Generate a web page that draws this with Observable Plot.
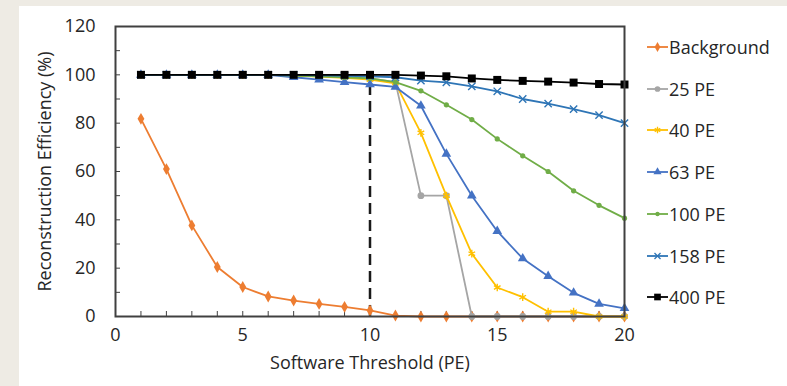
<!DOCTYPE html>
<html><head><meta charset="utf-8">
<script src="https://cdn.jsdelivr.net/npm/d3@7"></script>
<script src="https://cdn.jsdelivr.net/npm/@observablehq/plot@0.6"></script>
<style>
html,body{margin:0;padding:0;background:#EEEBE4;}
#wrap{position:relative;width:787px;height:386px;overflow:hidden;background:#EEEBE4;}
#panel{position:absolute;left:19px;top:6px;right:0;bottom:0;background:#fff;}
#chart{position:absolute;left:0;top:0;}
#legend{position:absolute;left:647px;top:0;font-family:"Open Sans",sans-serif;font-size:18px;color:#262626;}
.item{position:absolute;left:0;display:flex;align-items:center;height:24px;white-space:nowrap;}
.item svg{margin-right:1px;}
</style></head>
<body><div id="wrap"><div id="panel"></div><div id="chart"></div><div id="legend"></div></div>
<script>
// ---- data ----
const thresholds = [1,2,3,4,5,6,7,8,9,10,11,12,13,14,15,16,17,18,19,20];
const background = [81.8,61,37.7,20.5,12.2,8.3,6.6,5.2,4.0,2.5,0.4,0,0,0,0,0,0,0,0,0];
const pe25  = [100,100,100,100,100,100,99.8,99.5,99,98.5,97,50,50,0,0,0,0,0,0,0];
const pe40  = [100,100,100,100,100,100,99.7,99.3,98.8,98,96.5,76,50,26,12,8,2,2,0,0];
const pe63  = [100,100,100,100,100,100,99,98,97,96,95,87.2,67.3,50,35.3,24,16.7,9.8,5.2,3.4];
const pe100 = [100,100,100,100,100,100,99.7,99.4,99,98.5,97,93.4,87.6,81.5,73.5,66.5,60,52,46,40.7];
const pe158 = [100,100,100,100,100,100,100,99.8,99.6,99.4,99,97.6,96.9,95.2,93.2,90,88.1,85.8,83.3,80];
const pe400 = [100,100,100,100,100,100,100,100,100,100,100,99.7,99.4,98.5,97.9,97.5,97.2,96.8,96.2,96];
const seriesNames = ["Background","25 PE","40 PE","63 PE","100 PE","158 PE","400 PE"];
const seriesValues = [background,pe25,pe40,pe63,pe100,pe158,pe400];
const seriesColors = ["#ED7D31","#A5A5A5","#FFC000","#4472C4","#70AD47","#2E75B6","#000000"];
const seriesSymbols = ["diamond","circle","asterisk","triangle","circle","times","square"];
const seriesR = [3.6,3.4,3.6,3.6,2.6,3.4,4.5];
const xTicks = [0,5,10,15,20];
const xMinor = [0,1,2,3,4,5,6,7,8,9,10,11,12,13,14,15,16,17,18,19,20];
const yTicks = [0,20,40,60,80,100,120];
const yMinor = [0,10,20,30,40,50,60,70,80,90,100,110,120];
const cutX = 10, cutTop = 96;
const xTitle = "Software Threshold (PE)";
const yTitle = "Reconstruction Efficiency (%)";

const rows = seriesNames.map((name, s) => thresholds.map((t, i) => ({series: name, x: t, y: seriesValues[s][i]})));
const hollow = new Set(["asterisk","times"]);

const marks = [
  Plot.axisY({ticks: yTicks, tickSize: 0, tickPadding: 20, label: null, fontSize: 18}),
  Plot.axisY({ticks: yMinor, tickSize: -5, text: null, label: null, stroke: "#404040"}),
  Plot.axisX({ticks: xTicks, tickSize: 0, tickPadding: 12, label: null, fontSize: 18}),
  Plot.axisX({ticks: xMinor, tickSize: -5, text: null, label: null, stroke: "#404040"}),
  Plot.text([yTitle], {text: d => d, frameAnchor: "left", textAnchor: "middle", rotate: -90, dx: -70, fontSize: 18}),
  Plot.text([xTitle], {text: d => d, frameAnchor: "bottom", textAnchor: "middle", dy: 52, fontSize: 18}),
  Plot.ruleX([cutX], {y1: 0, y2: cutTop, stroke: "#1a1a1a", strokeWidth: 2.5, strokeDasharray: "11,6"})
];
rows.forEach((data, s) => {
  marks.push(Plot.line(data, {x: "x", y: "y", stroke: seriesColors[s], strokeWidth: 1.8}));
  const sym = seriesSymbols[s];
  marks.push(Plot.dot(data, hollow.has(sym)
    ? {x: "x", y: "y", symbol: sym, r: seriesR[s], stroke: seriesColors[s], strokeWidth: 1.4}
    : {x: "x", y: "y", symbol: sym, r: seriesR[s], fill: seriesColors[s], stroke: "none"}));
});
marks.push(Plot.frame({stroke: "#404040", strokeWidth: 2}));

const chart = Plot.plot({
  width: 640, height: 386,
  marginLeft: 115, marginRight: 16, marginTop: 26, marginBottom: 70,
  style: {background: "transparent", fontFamily: "Open Sans, sans-serif", fontSize: "18px", color: "#262626", overflow: "visible"},
  x: {domain: [0, 20]},
  y: {domain: [0, 120]},
  marks
});
document.getElementById("chart").appendChild(chart);

// legend
const legend = d3.select("#legend");
const symMap = {diamond: d3.symbolDiamond, circle: d3.symbolCircle, asterisk: d3.symbolAsterisk, triangle: d3.symbolTriangle, times: d3.symbolTimes, square: d3.symbolSquare};
seriesNames.forEach((name, s) => {
  const it = legend.append("div").attr("class", "item").style("top", (47 + s * 41.7 - 12) + "px");
  const svg = it.append("svg").attr("width", 21).attr("height", 12);
  svg.append("line").attr("x1", 0).attr("x2", 21).attr("y1", 6).attr("y2", 6).attr("stroke", seriesColors[s]).attr("stroke-width", 1.8);
  const sym = seriesSymbols[s];
  const size = Math.PI * seriesR[s] * seriesR[s] * 0.7;
  const p = svg.append("path").attr("transform", "translate(10.5,6)").attr("d", d3.symbol(symMap[sym], size)());
  if (hollow.has(sym)) p.attr("fill", "none").attr("stroke", seriesColors[s]).attr("stroke-width", 1.3);
  else p.attr("fill", seriesColors[s]);
  it.append("span").text(name);
});
</script>
</body></html>
